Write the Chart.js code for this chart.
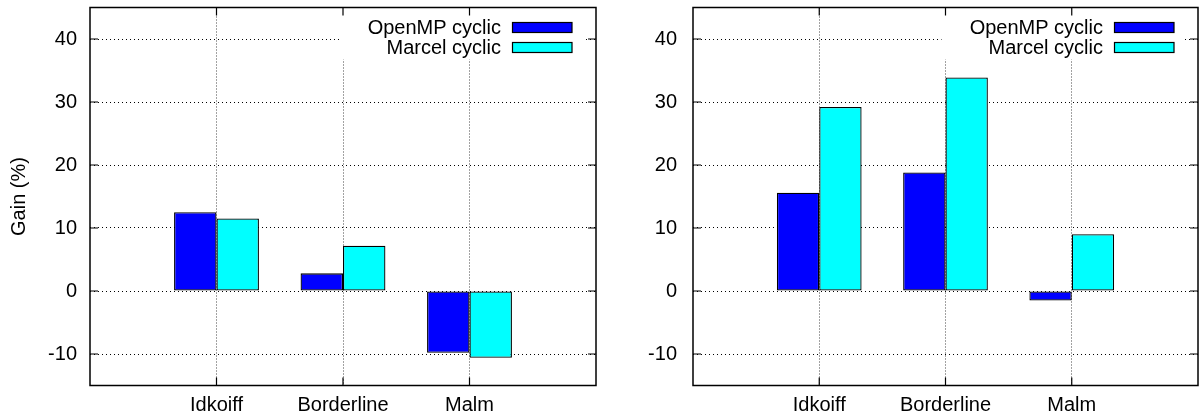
<!DOCTYPE html>
<html>
<head>
<meta charset="utf-8">
<script src="https://cdn.jsdelivr.net/npm/chart.js@4.4.0/dist/chart.umd.min.js"></script>
<style>
body { margin: 0; background: #fff; }
.wrap { display: flex; width: 1200px; height: 419px; }
canvas { display: block; }
</style>
</head>
<body>
<div class="wrap">
<canvas id="left_chart" width="600" height="419"></canvas>
<canvas id="right_chart" width="600" height="419"></canvas>
</div>
<script>
var categories = ['Idkoiff', 'Borderline', 'Malm'];
var series_names = ['OpenMP cyclic', 'Marcel cyclic'];
var series_colors = ['#0000ff', '#00ffff'];
var left_openmp = [12.5, 2.8, -9.8];
var left_marcel = [11.5, 7.2, -10.6];
var right_openmp = [15.6, 18.8, -1.5];
var right_marcel = [29.2, 33.9, 9.0];
var y_ticks = [-10, 0, 10, 20, 30, 40];
var y_min = -15, y_max = 45;
var y_title = 'Gain (%)';

Chart.defaults.font.family = '"Liberation Sans", Arial, sans-serif';
Chart.defaults.font.size = 20;
Chart.defaults.color = '#000';

// empty slot on each side so the groups sit at 1/4, 2/4, 3/4 of the width
function pad(arr) {
    return [null].concat(arr).concat([null]);
}

var frame_plugin = {
    id: 'frame',
    beforeDatasetsDraw: function (chart) {
        // white box behind the key, hides the grid there
        var a = chart.chartArea;
        var ctx = chart.ctx;
        var left = chart.scales.x.getPixelForValue(2) - 4;
        ctx.save();
        ctx.fillStyle = '#fff';
        ctx.fillRect(left, a.top, a.right - 13 - left, 52);
        ctx.restore();
    },
    afterDraw: function (chart) {
        var a = chart.chartArea;
        var ctx = chart.ctx;
        var xs = chart.scales.x, ys = chart.scales.y;
        ctx.save();
        ctx.strokeStyle = '#000';
        ctx.lineWidth = 1.5;
        ctx.setLineDash([]);
        ctx.strokeRect(a.left, a.top, a.right - a.left, a.bottom - a.top);

        // inner tick marks
        ctx.lineWidth = 1.2;
        ctx.beginPath();
        ys.ticks.forEach(function (t) {
            var py = ys.getPixelForValue(t.value);
            ctx.moveTo(a.left, py); ctx.lineTo(a.left + 8, py);
            ctx.moveTo(a.right, py); ctx.lineTo(a.right - 8, py);
        });
        for (var k = 1; k <= categories.length; k++) {
            var px = xs.getPixelForValue(k);
            ctx.moveTo(px, a.bottom); ctx.lineTo(px, a.bottom - 8);
            ctx.moveTo(px, a.top); ctx.lineTo(px, a.top + 8);
        }
        ctx.stroke();

        // key: text on the left, swatch on the right
        ctx.font = '20px "Liberation Sans", Arial, sans-serif';
        ctx.textAlign = 'right';
        ctx.textBaseline = 'middle';
        chart.data.datasets.forEach(function (ds, i) {
            var rowY = a.top + 20 + i * 20;
            ctx.fillStyle = '#000';
            ctx.fillText(ds.label, a.right - 95, rowY + 1);
            ctx.fillStyle = ds.backgroundColor;
            ctx.fillRect(a.right - 83.5, rowY - 5, 59.5, 10);
            ctx.lineWidth = 1.2;
            ctx.strokeStyle = '#000';
            ctx.strokeRect(a.right - 83.5, rowY - 5, 59.5, 10);
        });
        ctx.restore();
    }
};

function makeChart(id, openmp, marcel, yWidth, padRight, withTitle) {
    var ctx = document.getElementById(id).getContext('2d');
    return new Chart(ctx, {
        type: 'bar',
        data: {
            labels: pad(categories),
            datasets: [{
                label: series_names[0],
                data: pad(openmp),
                backgroundColor: series_colors[0],
                borderColor: '#000',
                borderWidth: 1.3,
                borderSkipped: false
            }, {
                label: series_names[1],
                data: pad(marcel),
                backgroundColor: series_colors[1],
                borderColor: '#000',
                borderWidth: 1.3,
                borderSkipped: false
            }]
        },
        options: {
            responsive: false,
            animation: false,
            categoryPercentage: 0.671,
            barPercentage: 1.0,
            layout: { padding: { top: 7.5, right: padRight, left: 0, bottom: 0 } },
            plugins: {
                legend: { display: false },
                tooltip: { enabled: false }
            },
            scales: {
                x: {
                    offset: false,
                    grid: {
                        offset: false,
                        color: '#444',
                        lineWidth: 1,
                        drawTicks: false
                    },
                    border: { display: false, dash: [1, 2] },
                    ticks: { padding: 8, color: '#000', maxRotation: 0, autoSkip: false },
                    afterFit: function (scale) {
                        scale.height = 33.5;
                        scale.paddingLeft = 0;
                        scale.paddingRight = 0;
                    }
                },
                y: {
                    min: y_min,
                    max: y_max,
                    grid: {
                        color: '#000',
                        lineWidth: 1,
                        drawTicks: false
                    },
                    border: { display: false, dash: [1, 3] },
                    ticks: { padding: yWidth - 77, color: '#000' },
                    afterBuildTicks: function (scale) {
                        scale.ticks = y_ticks.map(function (v) { return { value: v }; });
                    },
                    title: {
                        display: withTitle,
                        text: y_title,
                        padding: { top: 7, bottom: 0 },
                        color: '#000'
                    },
                    afterFit: function (scale) {
                        scale.width = yWidth;
                        scale.paddingTop = 0;
                        scale.paddingBottom = 0;
                    }
                }
            }
        },
        plugins: [frame_plugin]
    });
}

makeChart('left_chart', left_openmp, left_marcel, 90, 4, true);
makeChart('right_chart', right_openmp, right_marcel, 93, 2, false);
</script>
</body>
</html>
